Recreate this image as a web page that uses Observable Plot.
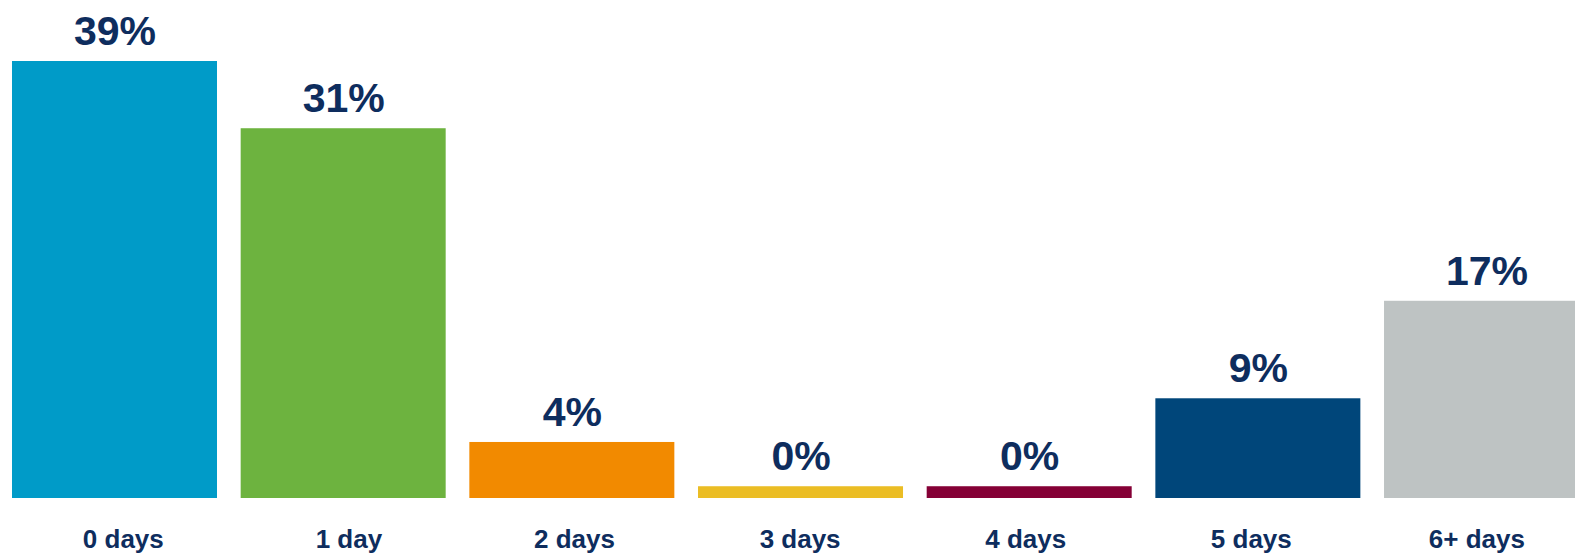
<!DOCTYPE html>
<html>
<head>
<meta charset="utf-8">
<script src="https://cdn.jsdelivr.net/npm/d3@7"></script>
<script src="https://cdn.jsdelivr.net/npm/@observablehq/plot@0.6"></script>
<style>
  html, body { margin: 0; padding: 0; background: #ffffff; overflow: hidden; }
  #wrap { position: relative; width: 1575px; height: 554px; }
  #wrap svg { display: block; overflow: hidden; }
  #labels { position: absolute; left: 0; top: 514px; }
</style>
</head>
<body>
<div id="wrap">
  <div id="chart"></div>
  <div id="labels"></div>
</div>
<script>
// Categories, bar heights (percent), and printed labels
const categories = ["0 days", "1 day", "2 days", "3 days", "4 days", "5 days", "6+ days"];
const values = [39, 33.0, 5.0, 1.05, 1.05, 8.9, 17.6];
const valueLabels = ["39%", "31%", "4%", "0%", "0%", "9%", "17%"];
const colors = ["#009bc8", "#6db33f", "#f28a00", "#ebbd24", "#850036", "#00467a", "#bec3c3"];

const data = categories.map((c, i) => ({cat: c, value: values[i], label: valueLabels[i], color: colors[i]}));

const textColor = "#0e2d5e";
const font = "'Liberation Sans', Arial, Helvetica, sans-serif";

const chart = Plot.plot({
  width: 1575,
  height: 554,
  marginTop: 61,
  marginBottom: 56,
  marginLeft: 0,
  marginRight: 0,
  style: {fontFamily: font, background: "transparent", overflow: "hidden"},
  x: {domain: categories, range: [-11.67, 1612.7], padding: 0.1035, round: false, axis: null},
  y: {domain: [0, 39], axis: null},
  marks: [
    Plot.barY(data, {x: "cat", y: "value", fill: "color"}),
    Plot.text(data, {
      x: "cat", y: "value", text: "label",
      lineAnchor: "bottom", dy: -16.5,
      fontSize: 41, fontWeight: "bold", fill: textColor
    })
  ]
});
document.getElementById("chart").appendChild(chart);

// Category labels sit on their own slightly narrower spacing, as in the original
const labelRow = Plot.plot({
  width: 1575,
  height: 40,
  margin: 0,
  style: {fontFamily: font, background: "transparent", overflow: "hidden"},
  x: {type: "point", domain: categories, range: [122.8, 1476.4], padding: 0, round: false, axis: null},
  marks: [
    Plot.text(data, {
      x: "cat", frameAnchor: "bottom", text: "cat",
      lineAnchor: "bottom", dy: -7,
      fontSize: 26, fontWeight: "bold", fill: textColor
    })
  ]
});
document.getElementById("labels").appendChild(labelRow);
</script>
</body>
</html>
